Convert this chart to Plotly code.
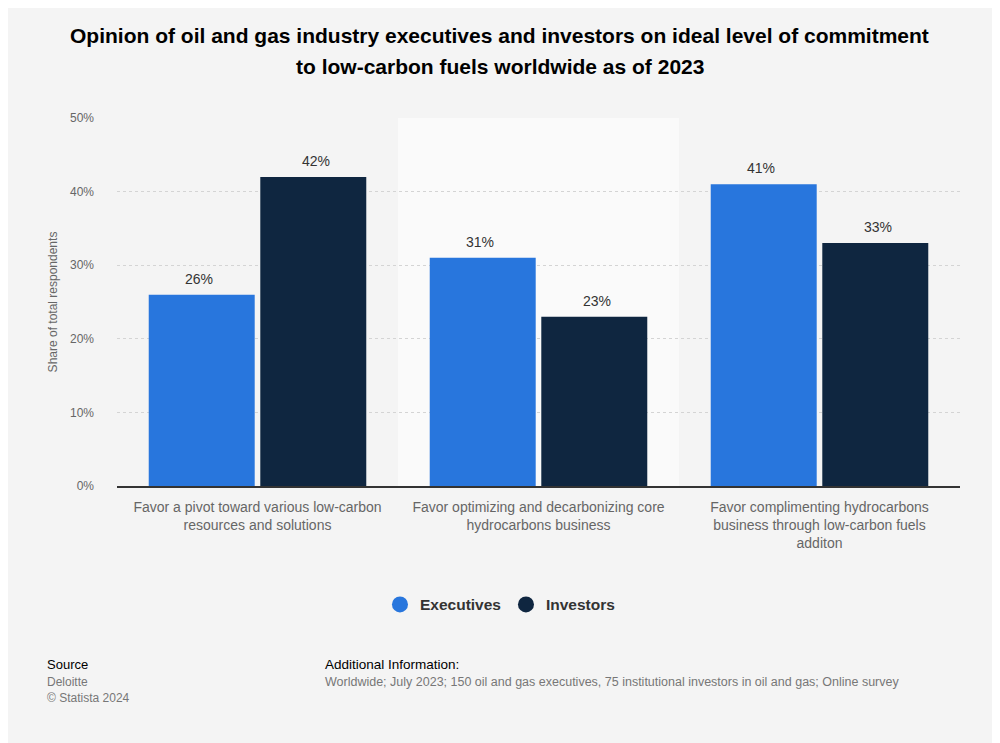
import plotly.graph_objects as go

categories = [
    "Favor a pivot toward various low-carbon<br>resources and solutions",
    "Favor optimizing and decarbonizing core<br>hydrocarbons business",
    "Favor complimenting hydrocarbons<br>business through low-carbon fuels<br>additon",
]
executives = [26, 31, 41]
investors = [42, 23, 33]
y_ticks = [0, 10, 20, 30, 40, 50]
y_tick_labels = ["0%", "10%", "20%", "30%", "40%", "50%"]
title_lines = [
    "Opinion of oil and gas industry executives and investors on ideal level of commitment",
    "to low-carbon fuels worldwide as of 2023",
]

series = [("Executives", executives, "#2876dd"), ("Investors", investors, "#0f2640")]

font = "Arial, 'Liberation Sans', sans-serif"

fig = go.Figure()
for name, vals, col in series:
    fig.add_trace(go.Bar(
        name=name, x=categories, y=vals,
        marker=dict(color=col, line=dict(width=0)),
        showlegend=False,
    ))
for name, vals, col in series:
    fig.add_trace(go.Scatter(
        name=f"<b>{name}</b>", x=[None], y=[None], mode="markers",
        marker=dict(color=col, size=17, symbol="circle"),
        showlegend=True,
    ))

# value labels above each bar (group offsets)
offsets = [-58.5, 58.5]
for (name, vals, col), off in zip(series, offsets):
    for c, v in zip(categories, vals):
        fig.add_annotation(x=c, y=v, xref="x", yref="y", text=f"{v}%", showarrow=False,
                           xshift=off, yshift=6, yanchor="bottom",
                           font=dict(size=14, color="#333333", family=font))

fig.add_shape(type="rect", xref="x", yref="paper", x0=0.5, x1=1.5, y0=0, y1=1,
              fillcolor="#fafafa", line=dict(width=0), layer="below")

# title as two lines with the reference's line spacing
for line, yy in zip(title_lines, [1.2255, 1.1386]):
    fig.add_annotation(xref="paper", yref="paper", x=0.4543, y=yy, xanchor="center", yanchor="middle",
                       text=f"<b>{line}</b>", showarrow=False,
                       font=dict(size=21, color="#000000", family=font))

fig.update_layout(
    width=1000, height=743,
    paper_bgcolor="#f4f4f4", plot_bgcolor="#f4f4f4",
    margin=dict(l=109, r=48, t=110, b=265),
    barmode="group", bargap=0.206, bargroupgap=0.05,
    font=dict(family=font, color="#666666"),
    showlegend=True,
    legend=dict(orientation="h", x=0.4543, xanchor="center", y=-0.323, yanchor="middle",
                font=dict(size=15.5, color="#333333", family=font),
                traceorder="normal", itemwidth=30, bgcolor="rgba(0,0,0,0)"),
)
fig.update_xaxes(
    showline=True, linecolor="#333333", linewidth=2,
    tickfont=dict(size=14, color="#666666", family=font),
    ticks="", showgrid=False, ticklabelstandoff=7,
)
fig.update_yaxes(
    range=[0, 50], tickvals=y_ticks, ticktext=y_tick_labels,
    tickfont=dict(size=12, color="#666666", family=font),
    showgrid=True, gridcolor="#d4d4d4", griddash="dot", gridwidth=1,
    zeroline=False, ticklabelstandoff=22,
    title=dict(text="Share of total respondents", font=dict(size=12, color="#666666", family=font), standoff=9),
)

fig.add_annotation(xref="paper", yref="paper", x=-0.086, y=-0.486, xanchor="left", yanchor="middle",
                   text="Source", showarrow=False, font=dict(size=13, color="#000000", family=font))
fig.add_annotation(xref="paper", yref="paper", x=-0.086, y=-0.555, xanchor="left", yanchor="middle",
                   text="Deloitte<br>© Statista 2024", showarrow=False, align="left",
                   font=dict(size=12, color="#777777", family=font))
fig.add_annotation(xref="paper", yref="paper", x=0.2446, y=-0.486, xanchor="left", yanchor="middle",
                   text="Additional Information:", showarrow=False, font=dict(size=13.5, color="#000000", family=font))
fig.add_annotation(xref="paper", yref="paper", x=0.2446, y=-0.533, xanchor="left", yanchor="middle",
                   text="Worldwide; July 2023; 150 oil and gas executives, 75 institutional investors in oil and gas; Online survey",
                   showarrow=False, font=dict(size=12.5, color="#777777", family=font))

fig.write_html("out.html")
